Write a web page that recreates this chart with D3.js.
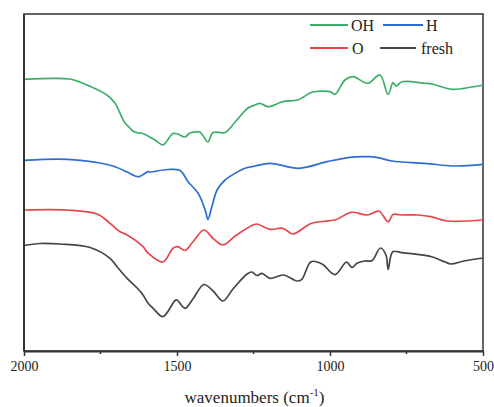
<!DOCTYPE html>
<html>
<head>
<meta charset="utf-8">
<script src="https://cdn.jsdelivr.net/npm/d3@7"></script>
<style>
  html, body { margin: 0; padding: 0; background: #fff; }
  svg { display: block; }
  text { font-family: "Liberation Serif", "Times New Roman", serif; fill: #222; }
</style>
</head>
<body>
<svg id="chart" width="494" height="407"></svg>
<script>
// ---- data (wavenumber in cm-1, signal in arbitrary units) ----
const seriesNames = ["OH", "H", "O", "fresh"];
const seriesColors = ["#3dae69", "#2e6dd3", "#e8454b", "#454545"];

const ohWave = [2000,1905,1850,1817,1794,1729,1703,1696,1676,1670,1654,1644,1627,1614,1595,1572,1546,1533,1513,1497,1474,1458,1441,1425,1412,1399,1382,1343,1310,1268,1245,1229,1203,1154,1105,1085,1059,1000,984,951,925,876,837,810,794,784,765,690,667,601,562,500];
const ohValue = [271.7,272.7,272,269,266,256,248,244.3,231,228,223,220,218,217.7,215,211,206,210,217.5,217,214,218,219,219,214,209,218.5,218.5,229,243,246,247.7,244.3,249.3,251,254.3,258.7,259.3,256.7,271,274.3,267.7,276,256.5,268.3,265,269.3,267.7,267,261.7,262.7,266];

const hWave = [2000,1859,1752,1709,1663,1627,1595,1588,1530,1490,1464,1431,1408,1399,1386,1369,1343,1310,1278,1245,1196,1101,1010,935,876,843,797,690,592,500];
const hValue = [190.7,191.7,188,185,179,174.3,179.3,179,181.5,180.5,169.3,157.7,141,131.7,144.3,161,171,177.7,182.7,185,187.7,182.7,189.3,193.7,194.3,193.3,190,187.7,185,186.7];

const oWave = [2000,1859,1761,1719,1686,1663,1611,1595,1546,1513,1497,1474,1451,1412,1382,1350,1310,1255,1239,1196,1154,1121,1062,980,931,879,840,810,794,768,712,670,618,500];
const oValue = [141,141,137,127.7,119.3,116,104.3,98,89,102.7,104.3,100.5,108,121,112.5,106,115,125.5,127,121.7,122.7,117,127.5,131.5,138.7,136,139.7,129.3,136.5,136,136,134.3,130,131];

const freshWave = [2000,1948,1882,1784,1719,1696,1663,1627,1611,1595,1578,1546,1507,1500,1474,1448,1412,1382,1350,1317,1271,1255,1239,1222,1196,1152,1108,1092,1062,1026,984,946,928,912,886,863,835,817,810,795,765,720,668,624,605,562,500];
const freshValue = [105.5,107.5,107,103.5,92.7,84.3,72.7,62,56,48,42.7,34.3,50.3,51,42.7,52,66.5,60,50,62,77,79,75.5,77.7,72.7,76,70,71.7,89.3,87,76.3,88.8,83.5,87.7,90,90.3,103,96,81.7,99.3,98.3,96.8,94.3,89,87,90,93];

const xTicks = [2000, 1500, 1000, 500];
const xMinorTicks = [1750, 1250, 750];
const xTitle = "wavenumbers (cm";
const xTitleSup = "-1";

// ---- layout ----
const svg = d3.select("#chart");
const margin = { left: 24, top: 14, right: 11, bottom: 56 };
const W = 494, H = 407;
const plotW = W - margin.left - margin.right;   // 459
const plotH = H - margin.top - margin.bottom;   // 337

const x = d3.scaleLinear().domain([2000, 500]).range([margin.left, margin.left + plotW]);
const y = d3.scaleLinear().domain([0, 337]).range([margin.top + plotH, margin.top]);

const series = [
  { name: seriesNames[0], color: seriesColors[0], wave: ohWave, value: ohValue },
  { name: seriesNames[1], color: seriesColors[1], wave: hWave, value: hValue },
  { name: seriesNames[2], color: seriesColors[2], wave: oWave, value: oValue },
  { name: seriesNames[3], color: seriesColors[3], wave: freshWave, value: freshValue }
];

// frame (top & right)
svg.append("rect")
  .attr("x", margin.left).attr("y", margin.top)
  .attr("width", plotW).attr("height", plotH)
  .attr("fill", "none").attr("stroke", "#333").attr("stroke-width", 1.5);

// curves
const line = d3.line()
  .x(d => x(d[0])).y(d => y(d[1]))
  .curve(d3.curveCatmullRom.alpha(0.5));

const g = svg.append("g");
series.forEach(s => {
  const pts = s.wave.map((w, i) => [w, s.value[i]]).sort((a, b) => b[0] - a[0]);
  g.append("path")
    .attr("d", line(pts))
    .attr("fill", "none")
    .attr("stroke", s.color)
    .attr("stroke-width", 1.7)
    .attr("stroke-linejoin", "round");
});

// x axis
const xAxis = svg.append("g")
  .attr("transform", `translate(0,${margin.top + plotH})`)
  .call(d3.axisBottom(x).tickValues(xTicks).tickSize(5).tickSizeOuter(0).tickPadding(5).tickFormat(d3.format("d")));
xAxis.attr("font-family", null);
xAxis.select(".domain").attr("stroke", "#333").attr("stroke-width", 2);
xAxis.selectAll(".tick line").attr("stroke", "#333").attr("stroke-width", 1.5);
xAxis.selectAll(".tick text")
  .style("font-family", "'Liberation Serif', 'Times New Roman', serif")
  .attr("font-size", 14).attr("fill", "#222");

// minor ticks
svg.append("g").selectAll("line").data(xMinorTicks).join("line")
  .attr("x1", d => x(d)).attr("x2", d => x(d))
  .attr("y1", margin.top + plotH).attr("y2", margin.top + plotH + 3)
  .attr("stroke", "#333").attr("stroke-width", 1.5);

// left axis line
svg.append("line")
  .attr("x1", margin.left).attr("x2", margin.left)
  .attr("y1", margin.top).attr("y2", margin.top + plotH)
  .attr("stroke", "#333").attr("stroke-width", 2);

// x title
const t = svg.append("text")
  .attr("x", margin.left + plotW / 2 + 1).attr("y", 403)
  .attr("text-anchor", "middle")
  .attr("font-size", 17);
t.append("tspan").text(xTitle);
t.append("tspan").attr("font-size", 11).attr("dy", -7).text(xTitleSup);
t.append("tspan").attr("dy", 7).text(")");

// legend
const legendPos = [
  { x1: 310, x2: 348, tx: 351, y: 25 },
  { x1: 383, x2: 423, tx: 426, y: 25 },
  { x1: 310, x2: 348, tx: 352, y: 48 },
  { x1: 380, x2: 416, tx: 421, y: 48 }
];
const lg = svg.append("g");
series.forEach((s, i) => {
  const p = legendPos[i];
  lg.append("line").attr("x1", p.x1).attr("x2", p.x2).attr("y1", p.y).attr("y2", p.y)
    .attr("stroke", s.color).attr("stroke-width", 1.8);
  lg.append("text").attr("x", p.tx).attr("y", p.y + 5.5)
    .attr("font-size", 16).text(s.name);
});
</script>
</body>
</html>
